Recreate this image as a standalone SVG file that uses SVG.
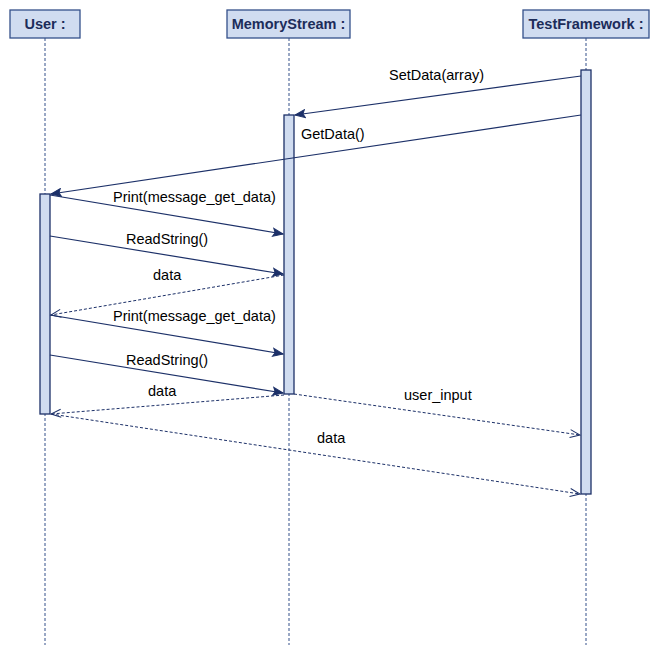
<svg xmlns="http://www.w3.org/2000/svg" width="660" height="655" viewBox="0 0 660 655">
<style>
.head{fill:#d0dcf0;stroke:#34508a;stroke-width:1.3}
.title{font-family:"Liberation Sans",Arial,sans-serif;font-size:14.5px;font-weight:bold;fill:#1c2c5a;text-anchor:middle}
.life{stroke:#34508a;stroke-width:1;stroke-dasharray:3,2;fill:none}
.act{fill:#d0dcf0;stroke:#1c3068;stroke-width:1.3}
.msg{stroke:#1c3068;stroke-width:1.2;fill:none}
.ret{stroke:#1c3068;stroke-width:1;fill:none;stroke-dasharray:3,2}
.lbl{font-family:"Liberation Sans",Arial,sans-serif;font-size:14.5px;fill:#000}
</style>
<defs>
<marker id="filled" viewBox="-11 -5 12 10" refX="0" refY="0" markerWidth="12" markerHeight="10" markerUnits="userSpaceOnUse" orient="auto">
<path d="M0,0 L-10,-4 L-8,0 L-10,4 Z" fill="#1c3068" stroke="#1c3068" stroke-width="1"/>
</marker>
<marker id="open" viewBox="-11 -5 12 10" refX="0" refY="0" markerWidth="12" markerHeight="10" markerUnits="userSpaceOnUse" orient="auto">
<path d="M-10,-4 L0,0 L-10,4" fill="none" stroke="#1c3068" stroke-width="1"/>
</marker>
</defs>
<rect width="660" height="655" fill="#fff"/>
<g id="user">
<line class="life" x1="45" y1="38" x2="45" y2="645"/>
<rect class="head" x="10" y="10" width="70" height="28"/>
<text class="title" x="45" y="29">User :</text>
<rect class="act" x="40" y="194" width="10" height="220"/>
</g>
<g id="memorystream">
<line class="life" x1="289" y1="38" x2="289" y2="645"/>
<rect class="head" x="227" y="10" width="123" height="28"/>
<text class="title" x="288.5" y="29">MemoryStream :</text>
<rect class="act" x="284" y="115" width="10" height="279"/>
</g>
<g id="testframework">
<line class="life" x1="586" y1="38" x2="586" y2="645"/>
<rect class="head" x="523" y="10" width="126" height="28"/>
<text class="title" x="586" y="29">TestFramework :</text>
<rect class="act" x="581" y="70" width="10" height="424"/>
</g>
<g id="connectors">
<line class="msg" x1="581" y1="76" x2="295" y2="115" marker-end="url(#filled)"/>
<text class="lbl" x="389" y="80">SetData(array)</text>
<line class="msg" x1="581" y1="115" x2="51" y2="194" marker-end="url(#filled)"/>
<text class="lbl" x="301" y="139">GetData()</text>
<line class="msg" x1="50" y1="195" x2="283" y2="234" marker-end="url(#filled)"/>
<text class="lbl" x="113" y="202">Print(message_get_data)</text>
<line class="msg" x1="50" y1="236" x2="283" y2="274" marker-end="url(#filled)"/>
<text class="lbl" x="126" y="244">ReadString()</text>
<line class="ret" x1="284" y1="275" x2="51" y2="315" marker-end="url(#open)"/>
<text class="lbl" x="153" y="280">data</text>
<line class="msg" x1="50" y1="315" x2="283" y2="354" marker-end="url(#filled)"/>
<text class="lbl" x="113" y="321">Print(message_get_data)</text>
<line class="msg" x1="50" y1="355" x2="283" y2="393" marker-end="url(#filled)"/>
<text class="lbl" x="126" y="365">ReadString()</text>
<line class="ret" x1="284" y1="395" x2="51" y2="414" marker-end="url(#open)"/>
<text class="lbl" x="148" y="396">data</text>
<line class="ret" x1="294" y1="394" x2="580" y2="435" marker-end="url(#open)"/>
<text class="lbl" x="404" y="400">user_input</text>
<line class="ret" x1="51" y1="414" x2="580" y2="494" marker-end="url(#open)"/>
<text class="lbl" x="317" y="443">data</text>
</g>
</svg>
